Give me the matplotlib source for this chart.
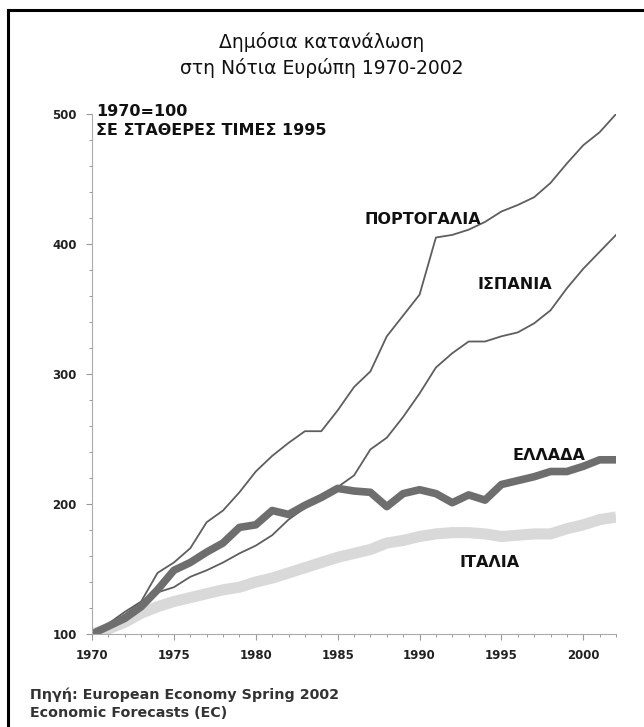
import numpy as np
import matplotlib
matplotlib.use("Agg")
import matplotlib.pyplot as plt
from matplotlib.ticker import MultipleLocator
from matplotlib.lines import Line2D

years = list(range(1970, 2003))

portugal = [100, 108, 117, 125, 147, 155, 166, 186, 195, 209, 225, 237, 247, 256,
            256, 272, 290, 302, 329, 345, 361, 405, 407, 411, 417, 425, 430, 436,
            447, 462, 476, 486, 500]
spain = [100, 107, 115, 124, 132, 136, 144, 149, 155, 162, 168, 176, 188, 197,
         205, 213, 222, 242, 251, 267, 285, 305, 316, 325, 325, 329, 332, 339,
         349, 366, 381, 394, 407]
greece = [100, 106, 112, 121, 134, 149, 155, 163, 170, 182, 184, 195, 192, 199,
          205, 212, 210, 209, 198, 208, 211, 208, 201, 207, 203, 215, 218, 221,
          225, 225, 229, 234, 234]
italy = [100, 104, 109, 116, 121, 125, 128, 131, 134, 136, 140, 143, 147, 151,
         155, 159, 162, 165, 170, 172, 175, 177, 178, 178, 177, 175, 176, 177,
         177, 181, 184, 188, 190]

title_lines = ["Δημόσια κατανάλωση", "στη Νότια Ευρώπη 1970-2002"]
note_lines = ["1970=100", "ΣΕ ΣΤΑΘΕΡΕΣ ΤΙΜΕΣ 1995"]
source_lines = ["Πηγή: European Economy Spring 2002", "Economic Forecasts (EC)"]

plt.rcParams['font.family'] = ['DejaVu Sans']

fig = plt.figure(figsize=(6.44, 7.27), dpi=100, facecolor='white')
ax = fig.add_axes([0.1429, 0.1279, 0.8137, 0.7153])

ax.plot(years, italy, color='#d9d9d9', lw=8, solid_capstyle='butt', solid_joinstyle='round')
ax.plot(years, spain, color='#5e5e5e', lw=1.3)
ax.plot(years, portugal, color='#5e5e5e', lw=1.3)
ax.plot(years, greece, color='#6e6e6e', lw=5.5, solid_capstyle='butt', solid_joinstyle='round')

ax.set_xlim(1970, 2002)
ax.set_ylim(100, 500)
ax.xaxis.set_major_locator(MultipleLocator(5))
ax.xaxis.set_minor_locator(MultipleLocator(1))
ax.yaxis.set_major_locator(MultipleLocator(100))
ax.yaxis.set_minor_locator(MultipleLocator(20))
for s in ['top', 'right']:
    ax.spines[s].set_visible(False)
for s in ['left', 'bottom']:
    ax.spines[s].set_color('#aaaaaa')
    ax.spines[s].set_linewidth(0.8)
ax.tick_params(which='major', direction='out', length=4, width=0.8, color='#999999',
               labelsize=8.5, labelcolor='#222222', pad=7)
ax.tick_params(which='minor', direction='out', length=2.5, width=0.7, color='#999999')
for lbl in ax.get_xticklabels() + ax.get_yticklabels():
    lbl.set_fontweight('bold')

bold = dict(fontweight='bold', color='#111111')
ax.text(1990.2, 419, "ΠΟΡΤΟΓΑΛΙΑ", fontsize=11.5, ha='center', va='center', **bold)
ax.text(1995.8, 369, "ΙΣΠΑΝΙΑ", fontsize=11.5, ha='center', va='center', **bold)
ax.text(1997.9, 237, "ΕΛΛΑΔΑ", fontsize=11.5, ha='center', va='center', **bold)
ax.text(1994.3, 155, "ΙΤΑΛΙΑ", fontsize=11.5, ha='center', va='center', **bold)

fig.text(0.149, 0.846, note_lines[0], fontsize=11.5, ha='left', va='center', **bold)
fig.text(0.149, 0.820, note_lines[1], fontsize=11.5, ha='left', va='center', **bold)

fig.text(0.5, 0.942, title_lines[0], fontsize=13.5, ha='center', va='center', color='#111111')
fig.text(0.5, 0.906, title_lines[1], fontsize=13.5, ha='center', va='center', color='#111111')

fig.text(0.047, 0.044, source_lines[0], fontsize=10.3, ha='left', va='center',
         fontweight='bold', color='#333333')
fig.text(0.047, 0.019, source_lines[1], fontsize=10.3, ha='left', va='center',
         fontweight='bold', color='#333333')

# cropped frame: only top and left edges
fig.add_artist(Line2D([0.0124, 1.0], [0.9862, 0.9862], color='black', lw=2.2,
                      transform=fig.transFigure))
fig.add_artist(Line2D([0.0124, 0.0124], [0.0, 0.9862], color='black', lw=2.2,
                      transform=fig.transFigure))

plt.savefig("out.png", dpi=100, facecolor='white')
